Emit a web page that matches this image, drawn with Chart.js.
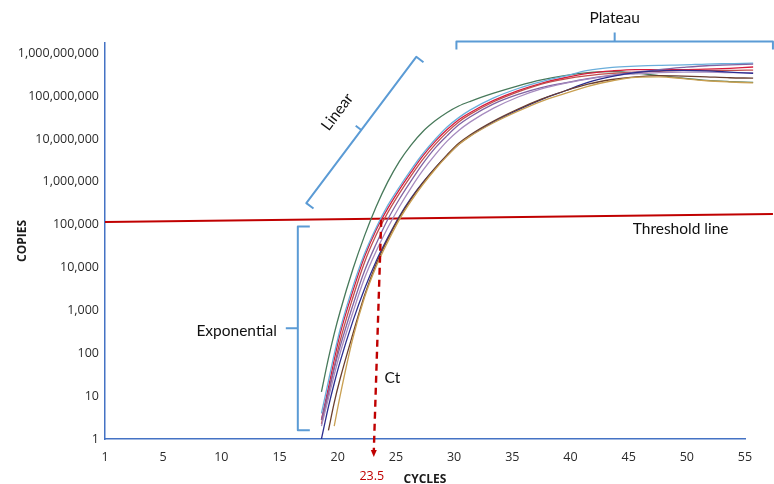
<!DOCTYPE html>
<html lang="en">
<head>
<meta charset="UTF-8" />
<title>Amplification curves</title>
<style>
  html, body { margin: 0; padding: 0; background: #fff; }
  #wrap { width: 774px; height: 484px; }
</style>
</head>
<body>
<div id="wrap"><canvas id="chart" width="774" height="484"></canvas></div>
<script src="https://cdn.jsdelivr.net/npm/chart.js@4.4.1/dist/chart.umd.min.js"></script>
<script>
const cycles = [18.6, 19.2, 19.7, 20.2, 21.3, 22.3, 23.3, 24.3, 25.3, 26.3, 27.3, 28.4, 29.4, 30.4, 31.4, 33.4, 35.5, 37.5, 39.5, 41.5, 43.6, 45.6, 47.6, 49.7, 51.7, 53.7, 55.7, 57.4];

const green = [12.6, 75.9, 288, 933, 9120, 5.50e4, 2.63e5, 1.0e6, 3.02e6, 7.24e6, 1.48e7, 2.69e7, 4.17e7, 5.89e7, 7.59e7, 1.17e8, 1.74e8, 2.40e8, 3.02e8, 3.55e8, 3.72e8, 3.47e8, 3.02e8, 2.63e8, 2.34e8, 2.19e8, 2.09e8, 2.04e8];
const lightBlue = [3.98, 22.4, 95.5, 355, 3550, 2.09e4, 8.51e4, 2.82e5, 7.59e5, 1.91e6, 4.47e6, 1.0e7, 1.91e7, 3.16e7, 4.79e7, 9.12e7, 1.51e8, 2.19e8, 2.95e8, 3.98e8, 4.68e8, 5.01e8, 5.25e8, 5.37e8, 5.62e8, 5.75e8, 5.89e8, 6.03e8];
const red = [2.82, 15.8, 70.8, 282, 2820, 1.78e4, 7.59e4, 2.40e5, 6.61e5, 1.66e6, 3.98e6, 8.91e6, 1.66e7, 2.82e7, 4.17e7, 7.94e7, 1.35e8, 2.0e8, 2.69e8, 3.39e8, 3.89e8, 4.17e8, 4.17e8, 4.17e8, 4.27e8, 4.47e8, 4.79e8, 5.01e8];
const rose = [2.24, 11.2, 47.9, 191, 2000, 1.32e4, 5.75e4, 1.91e5, 5.37e5, 1.38e6, 3.31e6, 7.59e6, 1.45e7, 2.51e7, 3.80e7, 7.41e7, 1.26e8, 1.91e8, 2.51e8, 3.02e8, 3.39e8, 3.63e8, 3.80e8, 3.98e8, 3.98e8, 3.98e8, 4.07e8, 4.17e8];
const purple = [2.75, 12.6, 44.7, 141, 1320, 8320, 3.55e4, 1.32e5, 3.98e5, 1.05e6, 2.63e6, 6.31e6, 1.20e7, 2.14e7, 3.31e7, 6.61e7, 1.10e8, 1.58e8, 2.04e8, 2.57e8, 3.09e8, 3.63e8, 4.17e8, 4.68e8, 5.13e8, 5.37e8, 5.62e8, 5.89e8];
const mauve = [2.0, 8.91, 31.6, 100, 891, 5620, 2.40e4, 8.51e4, 2.63e5, 7.24e5, 1.82e6, 4.37e6, 8.91e6, 1.58e7, 2.51e7, 5.25e7, 9.55e7, 1.48e8, 2.0e8, 2.51e8, 3.02e8, 3.31e8, 3.55e8, 3.63e8, 3.63e8, 3.55e8, 3.55e8, 3.55e8];
const navy = [1.0, 5.62, 20.0, 63.1, 562, 3160, 1.41e4, 5.01e4, 1.58e5, 4.17e5, 9.55e5, 2.14e6, 4.17e6, 7.59e6, 1.20e7, 2.51e7, 4.79e7, 8.32e7, 1.32e8, 2.09e8, 2.88e8, 3.55e8, 3.89e8, 3.98e8, 3.89e8, 3.63e8, 3.39e8, 3.16e8];
const tan = [null, null, 2.0, 10.0, 224, 2000, 1.05e4, 3.98e4, 1.32e5, 3.55e5, 8.51e5, 2.0e6, 3.98e6, 7.41e6, 1.17e7, 2.40e7, 4.47e7, 7.59e7, 1.15e8, 1.70e8, 2.29e8, 2.75e8, 2.82e8, 2.57e8, 2.29e8, 2.14e8, 2.04e8, 2.0e8];
const darkBrown = [null, 1.58, 7.08, 25.1, 282, 2240, 1.20e4, 4.57e4, 1.48e5, 3.98e5, 9.33e5, 2.14e6, 4.27e6, 7.94e6, 1.26e7, 2.63e7, 5.01e7, 8.51e7, 1.32e8, 1.91e8, 2.45e8, 2.82e8, 3.02e8, 2.95e8, 2.82e8, 2.69e8, 2.63e8, 2.57e8];

const thresholdCycles = [0, 57.4];
const thresholdValues = [1.16e5, 1.78e5];

const xTickValues = [0, 5, 10, 15, 20, 25, 30, 35, 40, 45, 50, 55];
const xTickLabels = ["1", "5", "10", "15", "20", "25", "30", "35", "40", "45", "50", "55"];
const yTickValues = [1, 10, 100, 1e3, 1e4, 1e5, 1e6, 1e7, 1e8, 1e9];
const yTickLabels = ["1", "10", "100", "1,000", "10,000", "100,000", "1,000,000", "10,000,000", "100,000,000", "1,000,000,000"];

const ctCycle = 23.1;
const ctLabel = "23.5";

const series = [
  { data: tan, color: "#c9a052" },
  { data: darkBrown, color: "#6b3f2e" },
  { data: navy, color: "#2b2d8f" },
  { data: mauve, color: "#a68bbf" },
  { data: purple, color: "#8064a2" },
  { data: lightBlue, color: "#6aaedb" },
  { data: rose, color: "#c0504d" },
  { data: red, color: "#d81b3c" },
  { data: green, color: "#47795a" },
];

function toPoints(xs, ys) {
  return xs.map((x, i) => ({ x: x, y: ys[i] }));
}

const overflow = { left: 0, top: 10, right: 32, bottom: 0 };

const datasets = series.map((s) => ({
  data: toPoints(cycles, s.data),
  borderColor: s.color,
  borderWidth: 1.3,
  pointRadius: 0,
  cubicInterpolationMode: "monotone",
  spanGaps: false,
  clip: overflow,
}));

datasets.push({
  data: toPoints(thresholdCycles, thresholdValues),
  borderColor: "#c00000",
  borderWidth: 2,
  pointRadius: 0,
  tension: 0,
  clip: overflow,
});

const annotationFont = "15.5px Lato, 'Open Sans', sans-serif";

const annotations = {
  id: "annotations",
  afterDatasetsDraw(chart) {
    const { ctx, chartArea } = chart;
    const x = chart.scales.x;
    const y = chart.scales.y;
    ctx.save();

    // blue brackets
    ctx.strokeStyle = "#5b9bd5";
    ctx.lineWidth = 2;
    ctx.lineJoin = "round";

    // plateau
    const pl = x.getPixelForValue(30.2);
    const pr = x.getPixelForValue(57.4);
    const pm = x.getPixelForValue(43.8);
    const pt = chartArea.top - 1.5;
    ctx.beginPath();
    ctx.moveTo(pl, pt + 8);
    ctx.lineTo(pl, pt);
    ctx.lineTo(pr, pt);
    ctx.lineTo(pr, pt + 8);
    ctx.moveTo(pm, pt);
    ctx.lineTo(pm, pt - 9);
    ctx.stroke();

    // linear (slanted)
    const a = { x: x.getPixelForValue(17.3), y: y.getPixelForValue(3.2e5) };
    const b = { x: x.getPixelForValue(26.75), y: y.getPixelForValue(8.3e8) };
    const len = Math.hypot(b.x - a.x, b.y - a.y);
    const u = { x: (b.x - a.x) / len, y: (b.y - a.y) / len };
    const n = { x: -u.y, y: u.x };
    const mid = { x: (a.x + b.x) / 2, y: (a.y + b.y) / 2 };
    ctx.beginPath();
    ctx.moveTo(a.x + 9 * n.x, a.y + 9 * n.y);
    ctx.lineTo(a.x, a.y);
    ctx.lineTo(b.x, b.y);
    ctx.lineTo(b.x + 9 * n.x, b.y + 9 * n.y);
    ctx.moveTo(mid.x, mid.y);
    ctx.lineTo(mid.x - 7 * n.x, mid.y - 7 * n.y);
    ctx.stroke();

    // exponential
    const bx = x.getPixelForValue(16.57);
    const bt = y.getPixelForValue(9.1e4);
    const bb = y.getPixelForValue(1.6);
    const bm = (bt + bb) / 2;
    ctx.beginPath();
    ctx.moveTo(bx + 12, bt);
    ctx.lineTo(bx, bt);
    ctx.lineTo(bx, bb);
    ctx.lineTo(bx + 12, bb);
    ctx.moveTo(bx, bm);
    ctx.lineTo(bx - 12, bm);
    ctx.stroke();

    // labels
    ctx.fillStyle = "#111";
    ctx.font = annotationFont;
    ctx.textBaseline = "middle";
    ctx.textAlign = "center";
    ctx.fillText("Plateau", pm, 18);

    ctx.textAlign = "right";
    ctx.fillText("Exponential", bx - 21, bm + 3);

    ctx.textAlign = "left";
    ctx.fillText("Threshold line", x.getPixelForValue(45.35), y.getPixelForValue(1e5) + 4);

    ctx.textAlign = "center";
    ctx.fillText("Ct", x.getPixelForValue(24.7), y.getPixelForValue(26));

    ctx.save();
    ctx.translate(mid.x - 30 * n.x, mid.y - 30 * n.y);
    ctx.rotate(Math.atan2(u.y, u.x));
    ctx.fillText("Linear", 0, 0);
    ctx.restore();

    // Ct arrow
    const topX = x.getPixelForValue(23.74);
    const topY = y.getPixelForValue(1.3e5);
    const ax = x.getPixelForValue(ctCycle);
    const ay = chartArea.bottom + 12;
    ctx.strokeStyle = "#c00000";
    ctx.fillStyle = "#c00000";
    ctx.lineWidth = 2.4;
    ctx.setLineDash([7, 5]);
    ctx.beginPath();
    ctx.moveTo(topX, topY);
    ctx.lineTo(ax, ay);
    ctx.stroke();
    ctx.setLineDash([]);
    ctx.beginPath();
    ctx.moveTo(ax - 3, ay - 1);
    ctx.lineTo(ax + 3, ay - 1);
    ctx.lineTo(ax, ay + 6);
    ctx.closePath();
    ctx.fill();

    ctx.font = "12.5px 'Open Sans', sans-serif";
    ctx.textAlign = "center";
    ctx.fillText(ctLabel, ax - 2, chartArea.bottom + 37);

    ctx.restore();
  },
};

const tickFont = { family: "'Open Sans', sans-serif", size: 12.5 };
const titleFont = { family: "'Open Sans', sans-serif", size: 12, weight: "bold" };

new Chart(document.getElementById("chart"), {
  type: "line",
  data: { datasets: datasets },
  options: {
    responsive: false,
    devicePixelRatio: 1,
    animation: false,
    layout: { padding: { top: 43, right: 29, left: 0, bottom: 0 } },
    plugins: { legend: { display: false }, tooltip: { enabled: false } },
    scales: {
      x: {
        type: "linear",
        min: 0,
        max: 55,
        afterBuildTicks: (s) => {
          s.ticks = xTickValues.map((v) => ({ value: v }));
        },
        afterFit: (s) => {
          s.height = 45;
        },
        ticks: {
          autoSkip: false,
          maxRotation: 0,
          padding: 11,
          color: "#2b2b2b",
          font: tickFont,
          callback: (v, i) => xTickLabels[i],
        },
        grid: { display: false, drawTicks: false },
        border: { display: true, color: "#4472c4", width: 1.5 },
        title: {
          display: true,
          text: "CYCLES",
          color: "#1a1a1a",
          font: Object.assign({ lineHeight: 0.75 }, titleFont),
          padding: 0,
        },
      },
      y: {
        type: "logarithmic",
        min: 1,
        max: 1.74e9,
        afterBuildTicks: (s) => {
          s.ticks = yTickValues.map((v) => ({ value: v }));
        },
        afterFit: (s) => {
          s.width = 105;
        },
        ticks: {
          padding: 6,
          color: "#2b2b2b",
          font: tickFont,
          callback: (v, i) => yTickLabels[i],
        },
        grid: { display: false, drawTicks: false },
        border: { display: true, color: "#4472c4", width: 1.5 },
        title: {
          display: true,
          text: "COPIES",
          color: "#1a1a1a",
          font: titleFont,
          padding: { top: 15 },
        },
      },
    },
  },
  plugins: [annotations],
});
</script>
</body>
</html>
